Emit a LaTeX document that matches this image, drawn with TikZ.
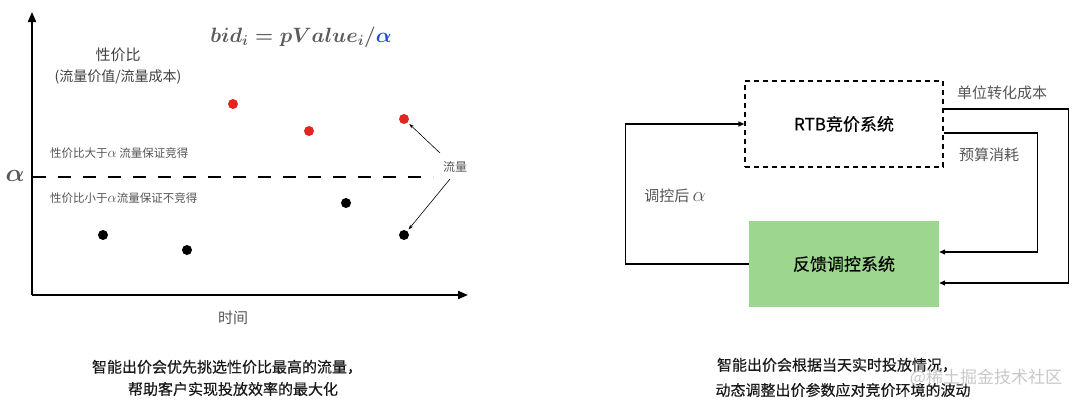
\documentclass[tikz,border=0pt]{standalone}
\usepackage{fontspec}
\usepackage{amsmath,bm}
\newfontfamily\cjk{Noto Sans CJK SC}
\newfontfamily\cjkb[FakeBold=0.4]{Noto Sans CJK SC}
\usetikzlibrary{arrows.meta}
\definecolor{txtgray}{HTML}{555555}
\definecolor{fgray}{HTML}{5A5A5A}
\definecolor{ablue}{HTML}{1F4FD8}
\definecolor{dotred}{HTML}{E0261E}
\definecolor{fbgreen}{HTML}{9DD68F}
\definecolor{wmgray}{HTML}{C8C8C8}
\begin{document}
\begin{tikzpicture}[x=1pt,y=-1pt,
  axis/.style={line width=2pt,-{Triangle[length=10pt,width=8pt]}},
  thres/.style={line width=2pt,dash pattern=on 13pt off 12pt},
  reddot/.style={circle,fill=dotred,inner sep=0pt,minimum size=10pt},
  blackdot/.style={circle,fill=black,inner sep=0pt,minimum size=10pt},
  lbl/.style={font=\cjk\fontsize{15}{18}\selectfont,text=txtgray,inner sep=0pt},
  smalllbl/.style={font=\cjk\fontsize{11.5}{14}\selectfont,text=txtgray,inner sep=0pt,anchor=west},
  captxt/.style={font=\cjkb\fontsize{15}{18}\selectfont,text=black!90,inner sep=0pt},
  pointer/.style={line width=0.6pt,-{Stealth[length=5pt,width=3.5pt]},shorten >=2pt},
  sysbox/.style={minimum width=198pt,minimum height=86pt,inner sep=0pt,font=\cjkb\fontsize{17}{20}\selectfont},
  conn/.style={line width=1.3pt,-{Triangle[length=6pt,width=5pt]}},
]
\useasboundingbox (0,0) rectangle (1080,402);
% ---------- left panel ----------
\coordinate (o) at (32,295);
\coordinate (ytop) at (32,12);
\coordinate (xend) at (468,295);
\draw[axis] (o) -- (ytop);
\draw[axis] (o) -- (xend);
\coordinate (d0) at (33,177);
\coordinate (d1) at (433,177);
\draw[thres] (d0) -- (d1);
\node[text=fgray,inner sep=0pt,font=\fontsize{24}{26}\selectfont\boldmath] (alab) at (15,176) {$\alpha$};
\node[text=fgray,inner sep=0pt,font=\fontsize{21}{24}\selectfont\boldmath] (formula) at (301,37)
  {$bid_i = pValue_i/\textcolor{ablue}{\alpha}$};
\node[lbl,text=black!75] (yl1) at (118,55) {性价比};
\node[lbl,text=black!75,font=\cjk\fontsize{14}{17}\selectfont] (yl2) at (118,77) {(流量价值/流量成本)};
\node[smalllbl] (above) at (50,153) {性价比大于{\fontsize{14}{14}\selectfont$\alpha$} 流量保证竞得};
\node[smalllbl] (below) at (50,198) {性价比小于{\fontsize{14}{14}\selectfont$\alpha$}流量保证不竞得};
\node[reddot] (r1) at (233,104) {};
\node[reddot] (r2) at (309,131) {};
\node[reddot] (r3) at (404,119) {};
\node[blackdot] (b1) at (103,235) {};
\node[blackdot] (b2) at (187,250) {};
\node[blackdot] (b3) at (346,203) {};
\node[blackdot] (b4) at (404,235) {};
\node[smalllbl,anchor=center,font=\cjk\fontsize{12}{14}\selectfont] (flow) at (455,167) {流量};
\coordinate (f1) at (440,153);
\coordinate (f2) at (450,179);
\draw[pointer] (f1) -- (r3);
\draw[pointer] (f2) -- (b4);
\node[lbl] (time) at (233,318) {时间};
\node[captxt] (capl1) at (227,367) {智能出价会优先挑选性价比最高的流量，};
\node[captxt] (capl2) at (233,389) {帮助客户实现投放效率的最大化};
% ---------- right panel ----------
\node[sysbox,draw,line width=1.3pt,dash pattern=on 5pt off 4pt] (rtb) at (844,124) {RTB竞价系统};
\node[sysbox,fill=fbgreen,minimum width=190pt] (fb) at (844,264) {反馈调控系统};
\draw[conn] (fb.west) -- ++(-123,0) |- (rtb.west);
\draw[conn] ([yshift=15pt]rtb.east) -- ++(125,0) |- ([yshift=-19pt]fb.east);
\draw[conn] ([yshift=-9pt]rtb.east) -- ++(94,0) |- ([yshift=12pt]fb.east);
\node[lbl] (unit) at (1002,93) {单位转化成本};
\node[lbl] (budget) at (989,155) {预算消耗};
\node[lbl] (adj) at (675,196) {调控后 \fontsize{21}{22}\selectfont$\alpha$};
\node[captxt] (capr1) at (837,365) {智能出价会根据当天实时投放情况，};
\node[captxt] (capr2) at (843,390) {动态调整出价参数应对竞价环境的波动};
\node[inner sep=0pt,text=wmgray,font=\cjk\fontsize{17}{20}\selectfont] (wm) at (986,378) {@稀土掘金技术社区};
\end{tikzpicture}
\end{document}
